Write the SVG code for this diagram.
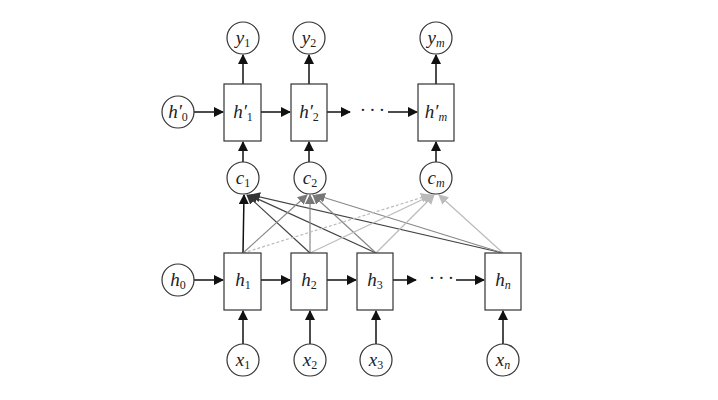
<svg xmlns="http://www.w3.org/2000/svg" width="718" height="400" viewBox="0 0 718 400">
<style>
.n{fill:#fff;stroke:#333;stroke-width:1.2}
.t{font-family:"Liberation Serif",serif;font-style:italic;font-size:19px;fill:#222;text-anchor:middle}
.s{font-size:12px;font-style:normal}
.i{font-size:12px;font-style:italic}
.e{stroke:#111;stroke-width:1.5;fill:none}
</style>
<defs>
<marker id="a" markerWidth="10" markerHeight="10" refX="9" refY="5" orient="auto" markerUnits="userSpaceOnUse"><path d="M0,0L10,5L0,10z" fill="#111"/></marker>
<marker id="b" markerWidth="10" markerHeight="10" refX="9" refY="5" orient="auto" markerUnits="userSpaceOnUse"><path d="M0,0L10,5L0,10z" fill="#333"/></marker>
<marker id="g" markerWidth="10" markerHeight="10" refX="9" refY="5" orient="auto" markerUnits="userSpaceOnUse"><path d="M0,0L10,5L0,10z" fill="#777"/></marker>
<marker id="l" markerWidth="10" markerHeight="10" refX="9" refY="5" orient="auto" markerUnits="userSpaceOnUse"><path d="M0,0L10,5L0,10z" fill="#bbb"/></marker>
</defs>
<rect width="718" height="400" fill="#fff"/>
<g id="connectors">
<g class="e" marker-end="url(#a)">
<line x1="243" y1="84" x2="243" y2="55"/><line x1="309" y1="84" x2="309" y2="55"/><line x1="436" y1="84" x2="436" y2="55"/>
<line x1="194" y1="112" x2="223" y2="112"/><line x1="261" y1="112" x2="290" y2="112"/><line x1="327" y1="112" x2="350" y2="112"/><line x1="388" y1="112" x2="417" y2="112"/>
<line x1="243" y1="162" x2="243" y2="142"/><line x1="309" y1="162" x2="309" y2="142"/><line x1="436" y1="162" x2="436" y2="142"/>
<line x1="194" y1="280" x2="223" y2="280"/><line x1="261" y1="280" x2="290" y2="280"/><line x1="327" y1="280" x2="356" y2="280"/><line x1="393" y1="280" x2="416" y2="280"/><line x1="456" y1="280" x2="484" y2="280"/>
<line x1="243" y1="344" x2="243" y2="311"/><line x1="310" y1="344" x2="310" y2="311"/><line x1="376" y1="344" x2="376" y2="311"/><line x1="503" y1="344" x2="503" y2="311"/>
<line x1="243" y1="253" x2="244" y2="195"/>
</g>
<g stroke="#444" stroke-width="1.2" marker-end="url(#b)">
<line x1="310" y1="253" x2="247" y2="195"/><line x1="376" y1="253" x2="249" y2="195"/><line x1="503" y1="253" x2="251" y2="195"/>
</g>
<g stroke="#888" stroke-width="1.2" marker-end="url(#g)">
<line x1="243" y1="253" x2="307" y2="195"/><line x1="310" y1="253" x2="310" y2="195"/><line x1="376" y1="253" x2="313" y2="195"/><line x1="503" y1="253" x2="316" y2="195"/>
</g>
<g stroke="#bbb" stroke-width="1.2" marker-end="url(#l)">
<line x1="243" y1="253" x2="430" y2="195" stroke-dasharray="3,2"/><line x1="310" y1="253" x2="432" y2="195"/><line x1="376" y1="253" x2="434" y2="195"/><line x1="503" y1="253" x2="439" y2="195"/>
</g>
<text x="372" y="116" class="t" font-style="normal">· · ·</text>
<text x="441" y="284" class="t" font-style="normal">· · ·</text>
</g>
<g id="y1"><circle class="n" cx="243" cy="38" r="16"/><text class="t" x="243" y="44">y<tspan class="s" dy="3">1</tspan></text></g>
<g id="y2"><circle class="n" cx="309" cy="38" r="16"/><text class="t" x="309" y="44">y<tspan class="s" dy="3">2</tspan></text></g>
<g id="ym"><circle class="n" cx="436" cy="38" r="16"/><text class="t" x="436" y="44">y<tspan class="i" dy="3">m</tspan></text></g>
<g id="hp0"><circle class="n" cx="178" cy="112" r="16"/><text class="t" x="178" y="118">h′<tspan class="s" dy="3">0</tspan></text></g>
<g id="hp1"><rect class="n" x="224" y="84" width="37" height="57"/><text class="t" x="243" y="118">h′<tspan class="s" dy="3">1</tspan></text></g>
<g id="hp2"><rect class="n" x="291" y="84" width="36" height="57"/><text class="t" x="309" y="118">h′<tspan class="s" dy="3">2</tspan></text></g>
<g id="hpm"><rect class="n" x="418" y="84" width="36" height="57"/><text class="t" x="436" y="118">h′<tspan class="i" dy="3">m</tspan></text></g>
<g id="c1"><circle class="n" cx="243" cy="178" r="16"/><text class="t" x="243" y="184">c<tspan class="s" dy="3">1</tspan></text></g>
<g id="c2"><circle class="n" cx="310" cy="178" r="16"/><text class="t" x="310" y="184">c<tspan class="s" dy="3">2</tspan></text></g>
<g id="cm"><circle class="n" cx="436" cy="178" r="16"/><text class="t" x="436" y="184">c<tspan class="i" dy="3">m</tspan></text></g>
<g id="h0"><circle class="n" cx="178" cy="280" r="16"/><text class="t" x="178" y="286">h<tspan class="s" dy="3">0</tspan></text></g>
<g id="h1"><rect class="n" x="224" y="253" width="37" height="57"/><text class="t" x="243" y="286">h<tspan class="s" dy="3">1</tspan></text></g>
<g id="h2"><rect class="n" x="291" y="253" width="36" height="57"/><text class="t" x="309" y="286">h<tspan class="s" dy="3">2</tspan></text></g>
<g id="h3"><rect class="n" x="357" y="253" width="36" height="57"/><text class="t" x="375" y="286">h<tspan class="s" dy="3">3</tspan></text></g>
<g id="hn"><rect class="n" x="485" y="253" width="36" height="57"/><text class="t" x="503" y="286">h<tspan class="i" dy="3">n</tspan></text></g>
<g id="x1"><circle class="n" cx="243" cy="360" r="16"/><text class="t" x="243" y="366">x<tspan class="s" dy="3">1</tspan></text></g>
<g id="x2"><circle class="n" cx="310" cy="360" r="16"/><text class="t" x="310" y="366">x<tspan class="s" dy="3">2</tspan></text></g>
<g id="x3"><circle class="n" cx="376" cy="360" r="16"/><text class="t" x="376" y="366">x<tspan class="s" dy="3">3</tspan></text></g>
<g id="xn"><circle class="n" cx="503" cy="360" r="16"/><text class="t" x="503" y="366">x<tspan class="i" dy="3">n</tspan></text></g>
</svg>
